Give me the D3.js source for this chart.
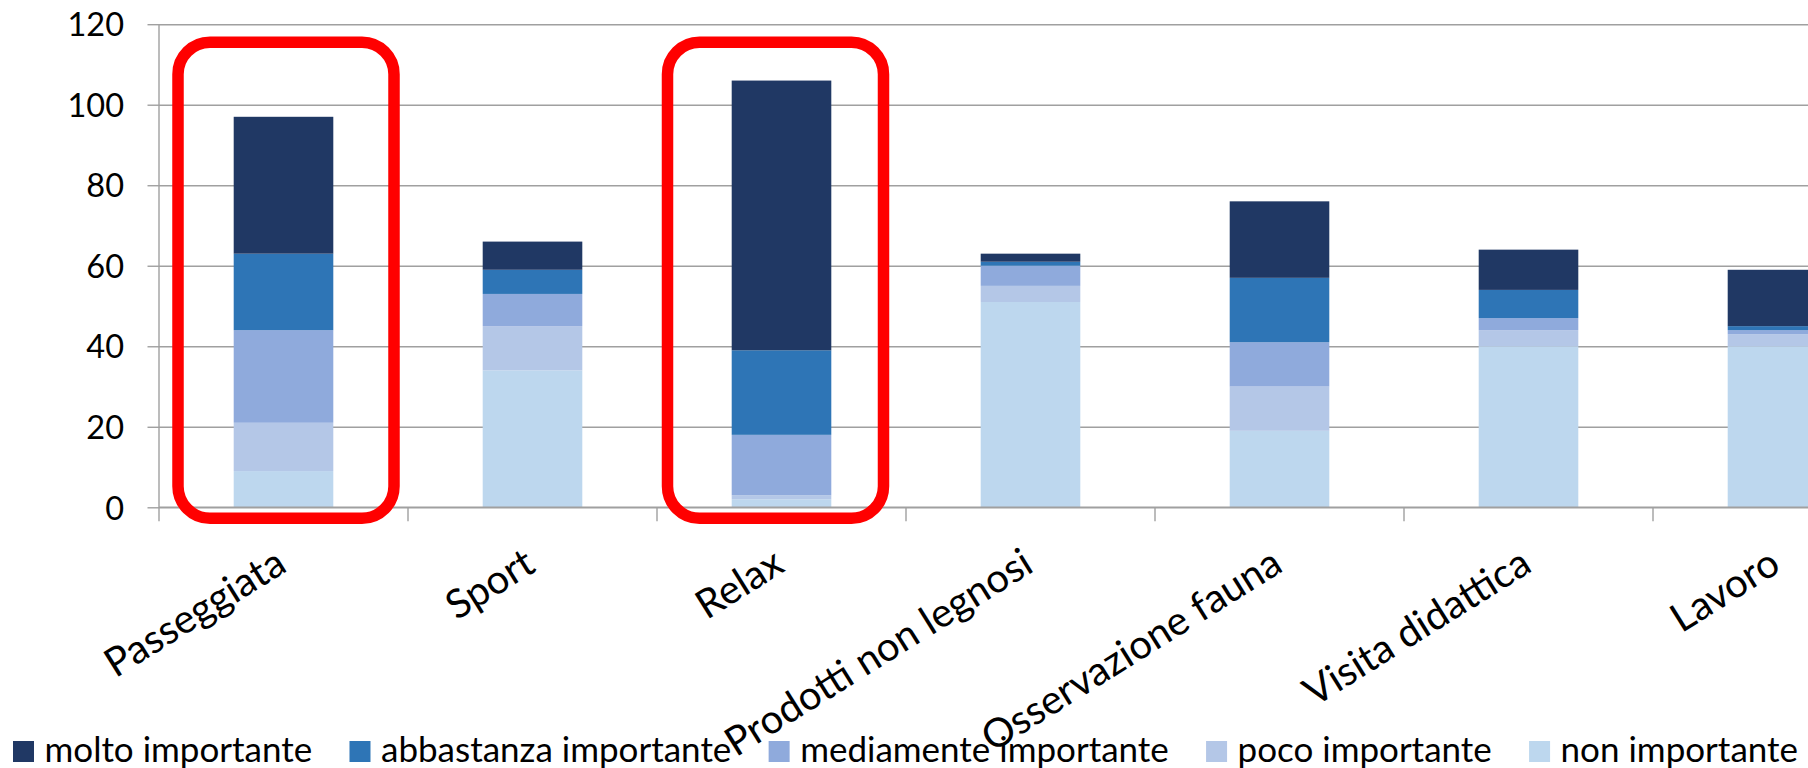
<!DOCTYPE html>
<html>
<head>
<meta charset="utf-8">
<script src="https://cdn.jsdelivr.net/npm/d3@7/dist/d3.min.js"></script>
<style>
  html, body { margin: 0; padding: 0; background: #ffffff; }
  svg { display: block; }
  text { font-family: Lato, "Open Sans", sans-serif; fill: #000; }
</style>
</head>
<body>
<svg id="chart" width="1808" height="768"></svg>
<script>
// ---- data ----
const categories = ["Passeggiata", "Sport", "Relax", "Prodotti non legnosi", "Osservazione fauna", "Visita didattica", "Lavoro"];
const seriesNames = ["molto importante", "abbastanza importante", "mediamente importante", "poco importante", "non importante"];
const molto      = [34, 7, 67, 2, 19, 10, 14];
const abbastanza = [19, 6, 21, 1, 16, 7, 1];
const mediamente = [23, 8, 15, 5, 11, 3, 1];
const poco       = [12, 11, 1, 4, 11, 4, 3];
const nonImp     = [9, 34, 2, 51, 19, 40, 40];
const yTicks = [0, 20, 40, 60, 80, 100, 120];
const highlighted = ["Passeggiata", "Relax"];

// ---- build table ----
const seriesValues = { "molto importante": molto, "abbastanza importante": abbastanza,
  "mediamente importante": mediamente, "poco importante": poco, "non importante": nonImp };
const colors = { "molto importante": "#203864", "abbastanza importante": "#2E75B6",
  "mediamente importante": "#8FAADC", "poco importante": "#B4C7E7", "non importante": "#BDD7EE" };
const stackOrder = ["non importante", "poco importante", "mediamente importante", "abbastanza importante", "molto importante"];
const table = categories.map((c, i) => {
  const row = { category: c };
  seriesNames.forEach(s => row[s] = seriesValues[s][i]);
  return row;
});
const stacked = d3.stack().keys(stackOrder)(table);

// ---- layout ----
const svg = d3.select("#chart");
const W = 1808, H = 768;
const plotLeft = 159, slotW = 249, plotRight = plotLeft + slotW * categories.length;
const plotBottom = 507.3, plotTop = 24.2;

const y = d3.scaleLinear().domain([0, 120]).range([plotBottom, plotTop]);
const xSlot = d3.scaleBand().domain(categories).range([plotLeft, plotRight]);
const xBar = d3.scaleBand().domain(categories).range([plotLeft, plotRight]).paddingInner(0.6).paddingOuter(0.3);

svg.append("rect").attr("width", W).attr("height", H).attr("fill", "#fff");

// gridlines + y ticks
const gridColor = "#a0a0a0";
const yAxis = d3.axisLeft(y).tickValues(yTicks).tickSize(-(plotRight - plotLeft)).tickPadding(0).tickFormat(d3.format("d"));
const gy = svg.append("g").attr("transform", `translate(${plotLeft},0)`).call(yAxis);
gy.select(".domain").remove();
gy.selectAll(".tick line").attr("stroke", gridColor).attr("stroke-width", 1.4);
gy.selectAll(".tick").append("line").attr("x1", -11.5).attr("x2", 0).attr("stroke", gridColor).attr("stroke-width", 1.4);
gy.selectAll(".tick text").attr("x", -35).attr("dy", "0.36em")
  .style("font-size", "32.5px").style("font-family", "Lato, sans-serif").attr("fill", "#000");

// y axis line
svg.append("line").attr("x1", plotLeft).attr("x2", plotLeft).attr("y1", plotTop).attr("y2", plotBottom + 14)
  .attr("stroke", gridColor).attr("stroke-width", 1.4);

// bars
svg.append("g").selectAll("g").data(stacked).join("g")
  .attr("fill", d => colors[d.key])
  .selectAll("rect").data(d => d).join("rect")
  .attr("x", d => xBar(d.data.category))
  .attr("width", xBar.bandwidth())
  .attr("y", d => y(d[1]))
  .attr("height", d => y(d[0]) - y(d[1]));

// x axis line and category tick marks
svg.append("line").attr("x1", plotLeft).attr("x2", plotRight).attr("y1", plotBottom).attr("y2", plotBottom)
  .attr("stroke", gridColor).attr("stroke-width", 1.4);
const boundaries = categories.map(c => xSlot(c) + xSlot.bandwidth());
svg.append("g").selectAll("line").data(boundaries).join("line")
  .attr("x1", d => d).attr("x2", d => d).attr("y1", plotBottom).attr("y2", plotBottom + 14)
  .attr("stroke", gridColor).attr("stroke-width", 1.4);

// category labels (rotated)
const angle = -32;
svg.append("g").selectAll("text").data(categories).join("text")
  .attr("transform", c => `translate(${xSlot(c) + xSlot.bandwidth() / 2 + 5},${plotBottom + 63}) rotate(${angle})`)
  .attr("text-anchor", "end")
  .style("font-size", "40px")
  .text(c => c);

// highlight boxes (hand-drawn style, slightly nudged per box)
const boxNudge = { "Passeggiata": 2.5, "Relax": -6 };
svg.append("g").selectAll("rect").data(highlighted).join("rect")
  .attr("x", c => xSlot(c) + xSlot.bandwidth() / 2 + boxNudge[c] - 108)
  .attr("width", 216)
  .attr("y", y(115.5))
  .attr("height", (plotBottom + 11) - y(115.5))
  .attr("rx", 32).attr("ry", 32)
  .attr("fill", "none").attr("stroke", "#ff0000").attr("stroke-width", 11.5);

// legend
const legendY = 762, sq = 21, textGap = 10.5, legendLeft = 13, legendRight = 1798;
const lg = svg.append("g");
const items = seriesNames.map(s => {
  const g = lg.append("g");
  g.append("rect").attr("width", sq).attr("height", sq).attr("y", legendY - sq).attr("fill", colors[s]);
  const t = g.append("text").attr("x", sq + textGap).attr("y", legendY).style("font-size", "35px").text(s);
  const w = sq + textGap + t.node().getComputedTextLength();
  return { g, w };
});
const totalW = d3.sum(items, d => d.w);
const gap = (legendRight - legendLeft - totalW) / (items.length - 1);
let cx = legendLeft;
items.forEach(it => { it.g.attr("transform", `translate(${cx},0)`); cx += it.w + gap; });
</script>
</body>
</html>
